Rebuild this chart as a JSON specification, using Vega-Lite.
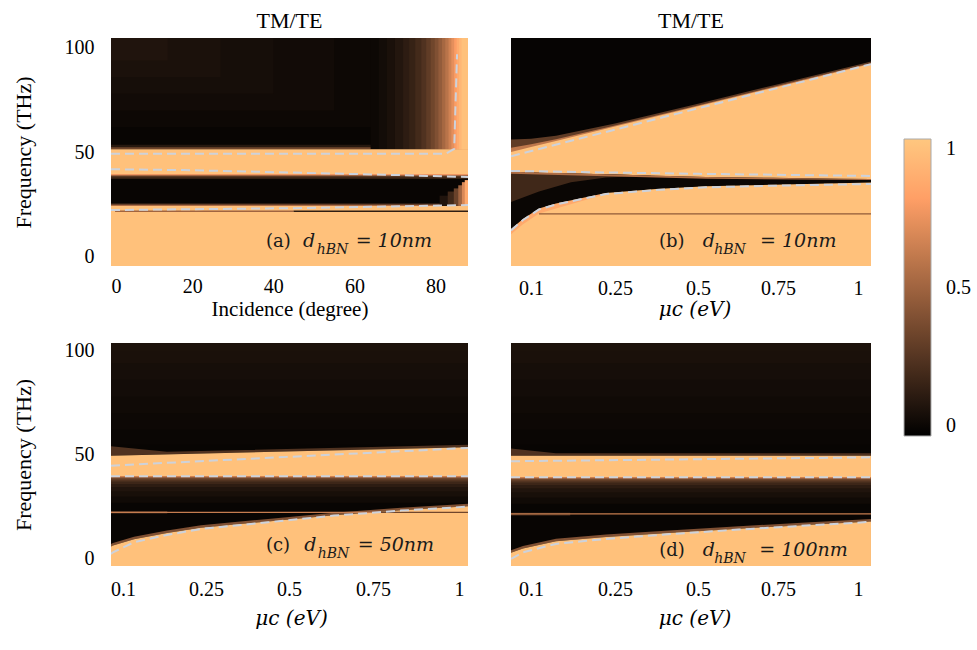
{
"$schema": "https://vega.github.io/schema/vega-lite/v6.json",
"background": "white",
"padding": {"left": 12, "top": 9, "right": 5, "bottom": 5},
"config": {
 "view": {"stroke": null},
 "font": "Liberation Serif",
 "axis": {"domain": false, "ticks": false, "grid": false, "labelFont": "Liberation Serif", "labelFontSize": 20, "labelColor": "#000", "titleFont": "Liberation Serif", "titleFontSize": 22, "titleFontWeight": "normal", "titleColor": "#000"},
 "title": {"font": "Liberation Serif", "fontSize": 22, "fontWeight": "normal", "color": "#000", "baseline": "bottom", "offset": 5},
 "legend": {"orient": "none", "legendX": 793, "legendY": 101, "direction": "vertical", "gradientLength": 297, "gradientThickness": 27, "labelFont": "Liberation Serif", "labelFontSize": 20, "labelColor": "#000", "labelOffset": 15, "gradientStrokeColor": "#aaaaaa", "gradientStrokeWidth": 1}
},
"datasets": {
 "reg": [
  {"p":"a","band":"a01","x":0,"y":-10,"y2":110,"v":0.025},{"p":"a","band":"a01","x":88,"y":-10,"y2":110,"v":0.025},
  {"p":"a","band":"a02","x":0,"y":62,"y2":110,"v":0.04},{"p":"a","band":"a02","x":70,"y":62,"y2":110,"v":0.04},
  {"p":"a","band":"a03","x":0,"y":70,"y2":110,"v":0.055},{"p":"a","band":"a03","x":55,"y":70,"y2":110,"v":0.055},
  {"p":"a","band":"a04","x":0,"y":78,"y2":110,"v":0.07},{"p":"a","band":"a04","x":40,"y":78,"y2":110,"v":0.07},
  {"p":"a","band":"a05","x":0,"y":86,"y2":110,"v":0.085},{"p":"a","band":"a05","x":27,"y":86,"y2":110,"v":0.085},
  {"p":"a","band":"a06","x":0,"y":94,"y2":110,"v":0.1},{"p":"a","band":"a06","x":14,"y":94,"y2":110,"v":0.1},
  {"p":"a","band":"a07","x":0,"y":51.3,"y2":53.5,"v":0.12},{"p":"a","band":"a07","x":84,"y":51.3,"y2":53.5,"v":0.12},
  {"p":"a","band":"a08","x":0,"y":51.3,"y2":52.3,"v":0.35},{"p":"a","band":"a08","x":84,"y":51.3,"y2":52.3,"v":0.35},
  {"p":"a","band":"a09","x":64,"y":51.3,"y2":110,"v":0.04},{"p":"a","band":"a09","x":88,"y":51.3,"y2":110,"v":0.04},
  {"p":"a","band":"a10","x":66,"y":51.3,"y2":110,"v":0.06},{"p":"a","band":"a10","x":88,"y":51.3,"y2":110,"v":0.06},
  {"p":"a","band":"a11","x":68,"y":51.3,"y2":110,"v":0.08},{"p":"a","band":"a11","x":88,"y":51.3,"y2":110,"v":0.08},
  {"p":"a","band":"a12","x":70,"y":51.3,"y2":110,"v":0.11},{"p":"a","band":"a12","x":88,"y":51.3,"y2":110,"v":0.11},
  {"p":"a","band":"a13","x":72,"y":51.3,"y2":110,"v":0.14},{"p":"a","band":"a13","x":88,"y":51.3,"y2":110,"v":0.14},
  {"p":"a","band":"a14","x":73.5,"y":51.3,"y2":110,"v":0.17},{"p":"a","band":"a14","x":88,"y":51.3,"y2":110,"v":0.17},
  {"p":"a","band":"a15","x":75,"y":51.3,"y2":110,"v":0.21},{"p":"a","band":"a15","x":88,"y":51.3,"y2":110,"v":0.21},
  {"p":"a","band":"a16","x":76.5,"y":51.3,"y2":110,"v":0.25},{"p":"a","band":"a16","x":88,"y":51.3,"y2":110,"v":0.25},
  {"p":"a","band":"a17","x":77.7,"y":51.3,"y2":110,"v":0.3},{"p":"a","band":"a17","x":88,"y":51.3,"y2":110,"v":0.3},
  {"p":"a","band":"a18","x":78.8,"y":51.3,"y2":110,"v":0.35},{"p":"a","band":"a18","x":88,"y":51.3,"y2":110,"v":0.35},
  {"p":"a","band":"a19","x":79.8,"y":51.3,"y2":110,"v":0.4},{"p":"a","band":"a19","x":88,"y":51.3,"y2":110,"v":0.4},
  {"p":"a","band":"a20","x":80.7,"y":51.3,"y2":110,"v":0.46},{"p":"a","band":"a20","x":88,"y":51.3,"y2":110,"v":0.46},
  {"p":"a","band":"a21","x":81.6,"y":51.3,"y2":110,"v":0.52},{"p":"a","band":"a21","x":88,"y":51.3,"y2":110,"v":0.52},
  {"p":"a","band":"a22","x":82.4,"y":51.3,"y2":110,"v":0.58},{"p":"a","band":"a22","x":88,"y":51.3,"y2":110,"v":0.58},
  {"p":"a","band":"a23","x":83.2,"y":51.3,"y2":110,"v":0.65},{"p":"a","band":"a23","x":88,"y":51.3,"y2":110,"v":0.65},
  {"p":"a","band":"a24","x":83.9,"y":51.3,"y2":110,"v":0.72},{"p":"a","band":"a24","x":88,"y":51.3,"y2":110,"v":0.72},
  {"p":"a","band":"a25","x":84.6,"y":51.3,"y2":110,"v":0.79},{"p":"a","band":"a25","x":88,"y":51.3,"y2":110,"v":0.79},
  {"p":"a","band":"a26","x":85.2,"y":51.3,"y2":110,"v":0.86},{"p":"a","band":"a26","x":88,"y":51.3,"y2":110,"v":0.86},
  {"p":"a","band":"a27","x":85.8,"y":51.3,"y2":110,"v":0.92},{"p":"a","band":"a27","x":88,"y":51.3,"y2":110,"v":0.92},
  {"p":"a","band":"a28","x":86.4,"y":51.3,"y2":110,"v":0.97},{"p":"a","band":"a28","x":88,"y":51.3,"y2":110,"v":0.97},
  {"p":"a","band":"a29","x":0,"y":39.4,"y2":51.3,"v":0.97},{"p":"a","band":"a29","x":88,"y":39.4,"y2":51.3,"v":0.97},
  {"p":"a","band":"a30","x":0,"y":37.2,"y2":39.4,"v":0.2},{"p":"a","band":"a30","x":88,"y":37.2,"y2":39.4,"v":0.2},
  {"p":"a","band":"a31","x":0,"y":38.3,"y2":39.4,"v":0.5},{"p":"a","band":"a31","x":88,"y":38.3,"y2":39.4,"v":0.5},
  {"p":"a","band":"a32","x":0,"y":38.9,"y2":39.4,"v":0.75},{"p":"a","band":"a32","x":88,"y":38.9,"y2":39.4,"v":0.75},
  {"p":"a","band":"a33","x":0,"y":24,"y2":25.2,"v":0.25},{"p":"a","band":"a33","x":88,"y":24,"y2":25.2,"v":0.25},
  {"p":"a","band":"a34","x":0,"y":24,"y2":24.6,"v":0.55},{"p":"a","band":"a34","x":88,"y":24,"y2":24.6,"v":0.55},
  {"p":"a","band":"a35","x":81,"y":24,"y2":29,"v":0.1},{"p":"a","band":"a35","x":88,"y":24,"y2":29,"v":0.1},
  {"p":"a","band":"a36","x":83,"y":24,"y2":31,"v":0.2},{"p":"a","band":"a36","x":88,"y":24,"y2":31,"v":0.2},
  {"p":"a","band":"a37","x":84.5,"y":24,"y2":32.5,"v":0.33},{"p":"a","band":"a37","x":88,"y":24,"y2":32.5,"v":0.33},
  {"p":"a","band":"a38","x":85.6,"y":24,"y2":34,"v":0.5},{"p":"a","band":"a38","x":88,"y":24,"y2":34,"v":0.5},
  {"p":"a","band":"a39","x":86.5,"y":24,"y2":35.5,"v":0.68},{"p":"a","band":"a39","x":88,"y":24,"y2":35.5,"v":0.68},
  {"p":"a","band":"a40","x":87.2,"y":24,"y2":36.5,"v":0.85},{"p":"a","band":"a40","x":88,"y":24,"y2":36.5,"v":0.85},
  {"p":"a","band":"a41","x":0,"y":-10,"y2":24,"v":0.97},{"p":"a","band":"a41","x":88,"y":-10,"y2":24,"v":0.97},
  {"p":"a","band":"a42","x":1,"y":21.2,"y2":21.9,"v":0.5},{"p":"a","band":"a42","x":45,"y":21.2,"y2":21.9,"v":0.5},
  {"p":"a","band":"a43","x":45,"y":21.2,"y2":21.9,"v":0.15},{"p":"a","band":"a43","x":88,"y":21.2,"y2":21.9,"v":0.15},

  {"p":"b","band":"b01","x":0.0643,"y":-10,"y2":110,"v":0.97},{"p":"b","band":"b01","x":1.0406,"y":-10,"y2":110,"v":0.97},
  {"p":"b","band":"b02","x":0.0643,"y":50,"y2":110,"v":0.6},{"p":"b","band":"b02","x":0.1,"y":52.35,"y2":110,"v":0.6},{"p":"b","band":"b02","x":0.1446,"y":55.3,"y2":110,"v":0.6},{"p":"b","band":"b02","x":0.25,"y":62.2,"y2":110,"v":0.6},{"p":"b","band":"b02","x":0.5,"y":72,"y2":110,"v":0.6},{"p":"b","band":"b02","x":0.75,"y":81.4,"y2":110,"v":0.6},{"p":"b","band":"b02","x":1,"y":90.8,"y2":110,"v":0.6},{"p":"b","band":"b02","x":1.0406,"y":92.3,"y2":110,"v":0.6},
  {"p":"b","band":"b03","x":0.0643,"y":52,"y2":110,"v":0.3},{"p":"b","band":"b03","x":0.1,"y":53.68,"y2":110,"v":0.3},{"p":"b","band":"b03","x":0.1446,"y":56.13,"y2":110,"v":0.3},{"p":"b","band":"b03","x":0.25,"y":62.7,"y2":110,"v":0.3},{"p":"b","band":"b03","x":0.5,"y":72.4,"y2":110,"v":0.3},{"p":"b","band":"b03","x":0.75,"y":81.8,"y2":110,"v":0.3},{"p":"b","band":"b03","x":1,"y":91.2,"y2":110,"v":0.3},{"p":"b","band":"b03","x":1.0406,"y":92.7,"y2":110,"v":0.3},
  {"p":"b","band":"b04","x":0.0643,"y":56,"y2":110,"v":0.02},{"p":"b","band":"b04","x":0.1,"y":56.35,"y2":110,"v":0.02},{"p":"b","band":"b04","x":0.1446,"y":57.8,"y2":110,"v":0.02},{"p":"b","band":"b04","x":0.25,"y":63.7,"y2":110,"v":0.02},{"p":"b","band":"b04","x":0.5,"y":73.2,"y2":110,"v":0.02},{"p":"b","band":"b04","x":0.75,"y":82.6,"y2":110,"v":0.02},{"p":"b","band":"b04","x":1,"y":92,"y2":110,"v":0.02},{"p":"b","band":"b04","x":1.0406,"y":93.5,"y2":110,"v":0.02},
  {"p":"b","band":"b05","x":0.0643,"y":10.5,"y2":13,"v":0.85},{"p":"b","band":"b05","x":0.0857,"y":15.3,"y2":17.8,"v":0.85},{"p":"b","band":"b05","x":0.1143,"y":20.4,"y2":22.9,"v":0.85},{"p":"b","band":"b05","x":0.1446,"y":22.8,"y2":25.3,"v":0.85},{"p":"b","band":"b05","x":0.2339,"y":29.8,"y2":30.3,"v":0.85},
  {"p":"b","band":"b06","x":0.0643,"y":13,"y2":40.5,"v":0.03},{"p":"b","band":"b06","x":0.0857,"y":17.8,"y2":40.3,"v":0.03},{"p":"b","band":"b06","x":0.1143,"y":22.9,"y2":40,"v":0.03},{"p":"b","band":"b06","x":0.1446,"y":25.3,"y2":39.8,"v":0.03},{"p":"b","band":"b06","x":0.2339,"y":30.3,"y2":39.3,"v":0.03},{"p":"b","band":"b06","x":0.3735,"y":32.2,"y2":38.6,"v":0.03},{"p":"b","band":"b06","x":0.525,"y":33.5,"y2":38,"v":0.03},{"p":"b","band":"b06","x":0.7344,"y":34.3,"y2":37.6,"v":0.03},{"p":"b","band":"b06","x":0.9406,"y":35,"y2":37.2,"v":0.03},{"p":"b","band":"b06","x":1.0406,"y":35.3,"y2":37,"v":0.03},
  {"p":"b","band":"b07","x":0.0643,"y":26,"y2":40.5,"v":0.2},{"p":"b","band":"b07","x":0.1143,"y":31,"y2":40,"v":0.2},{"p":"b","band":"b07","x":0.1714,"y":35.5,"y2":39.7,"v":0.2},{"p":"b","band":"b07","x":0.2339,"y":37.8,"y2":39.3,"v":0.2},{"p":"b","band":"b07","x":0.3584,"y":38.6,"y2":38.7,"v":0.2},
  {"p":"b","band":"b08","x":0.0643,"y":39.6,"y2":40.5,"v":0.55},{"p":"b","band":"b08","x":0.2339,"y":38.4,"y2":39.3,"v":0.55},{"p":"b","band":"b08","x":0.525,"y":37.1,"y2":38,"v":0.55},{"p":"b","band":"b08","x":0.9406,"y":36.7,"y2":37.2,"v":0.55},{"p":"b","band":"b08","x":1.0406,"y":36.5,"y2":37,"v":0.55},
  {"p":"b","band":"b09","x":0.1143,"y":19.9,"y2":20.5,"v":0.45},{"p":"b","band":"b09","x":1.0406,"y":19.9,"y2":20.5,"v":0.45},

  {"p":"c","band":"c01","x":0.0783,"y":-10,"y2":110,"v":0.025},{"p":"c","band":"c01","x":1.0262,"y":-10,"y2":110,"v":0.025},
  {"p":"c","band":"c02","x":0.0783,"y":55,"y2":110,"v":0.032},{"p":"c","band":"c02","x":1.0262,"y":55,"y2":110,"v":0.032},
  {"p":"c","band":"c03","x":0.0783,"y":62,"y2":110,"v":0.04},{"p":"c","band":"c03","x":1.0262,"y":62,"y2":110,"v":0.04},
  {"p":"c","band":"c04","x":0.0783,"y":70,"y2":110,"v":0.05},{"p":"c","band":"c04","x":1.0262,"y":70,"y2":110,"v":0.05},
  {"p":"c","band":"c05","x":0.0783,"y":78,"y2":110,"v":0.06},{"p":"c","band":"c05","x":1.0262,"y":78,"y2":110,"v":0.06},
  {"p":"c","band":"c06","x":0.0783,"y":86,"y2":110,"v":0.07},{"p":"c","band":"c06","x":1.0262,"y":86,"y2":110,"v":0.07},
  {"p":"c","band":"c07","x":0.0783,"y":94,"y2":110,"v":0.08},{"p":"c","band":"c07","x":1.0262,"y":94,"y2":110,"v":0.08},
  {"p":"c","band":"c08","x":0.0783,"y":100,"y2":110,"v":0.09},{"p":"c","band":"c08","x":1.0262,"y":100,"y2":110,"v":0.09},
  {"p":"c","band":"c09","x":0.0783,"y":49.6,"y2":54.1,"v":0.25},{"p":"c","band":"c09","x":0.1795,"y":50.23,"y2":51.5,"v":0.25},{"p":"c","band":"c09","x":1.0262,"y":53.6,"y2":54.8,"v":0.25},
  {"p":"c","band":"c10","x":0.0783,"y":39.7,"y2":49.6,"v":0.97},{"p":"c","band":"c10","x":1.0262,"y":39.7,"y2":53.6,"v":0.97},
  {"p":"c","band":"c11","x":0.0783,"y":27,"y2":39.7,"v":0.05},{"p":"c","band":"c11","x":1.0262,"y":27,"y2":39.7,"v":0.05},
  {"p":"c","band":"c12","x":0.0783,"y":30,"y2":39.7,"v":0.075},{"p":"c","band":"c12","x":1.0262,"y":30,"y2":39.7,"v":0.075},
  {"p":"c","band":"c13","x":0.0783,"y":32.5,"y2":39.7,"v":0.1},{"p":"c","band":"c13","x":1.0262,"y":32.5,"y2":39.7,"v":0.1},
  {"p":"c","band":"c14","x":0.0783,"y":34.5,"y2":39.7,"v":0.14},{"p":"c","band":"c14","x":1.0262,"y":34.5,"y2":39.7,"v":0.14},
  {"p":"c","band":"c15","x":0.0783,"y":36,"y2":39.7,"v":0.19},{"p":"c","band":"c15","x":1.0262,"y":36,"y2":39.7,"v":0.19},
  {"p":"c","band":"c16","x":0.0783,"y":37.2,"y2":39.7,"v":0.26},{"p":"c","band":"c16","x":1.0262,"y":37.2,"y2":39.7,"v":0.26},
  {"p":"c","band":"c17","x":0.0783,"y":38.2,"y2":39.7,"v":0.35},{"p":"c","band":"c17","x":1.0262,"y":38.2,"y2":39.7,"v":0.35},
  {"p":"c","band":"c18","x":0.0783,"y":39,"y2":39.7,"v":0.5},{"p":"c","band":"c18","x":1.0262,"y":39,"y2":39.7,"v":0.5},
  {"p":"c","band":"c19","x":0.0783,"y":39.4,"y2":39.7,"v":0.7},{"p":"c","band":"c19","x":1.0262,"y":39.4,"y2":39.7,"v":0.7},
  {"p":"c","band":"c20","x":0.0783,"y":6,"y2":7.2,"v":0.4},{"p":"c","band":"c20","x":0.0819,"y":6.4,"y2":7.6,"v":0.4},{"p":"c","band":"c20","x":0.1199,"y":9.5,"y2":10.7,"v":0.4},{"p":"c","band":"c20","x":0.1795,"y":12.5,"y2":13.7,"v":0.4},{"p":"c","band":"c20","x":0.241,"y":15,"y2":16.2,"v":0.4},{"p":"c","band":"c20","x":0.4367,"y":18,"y2":19.2,"v":0.4},{"p":"c","band":"c20","x":0.6339,"y":21,"y2":22.2,"v":0.4},{"p":"c","band":"c20","x":0.8314,"y":23.4,"y2":24.6,"v":0.4},{"p":"c","band":"c20","x":1.0262,"y":25.3,"y2":26.5,"v":0.4},
  {"p":"c","band":"c21","x":0.0783,"y":-10,"y2":6,"v":0.97},{"p":"c","band":"c21","x":0.0819,"y":-10,"y2":6.4,"v":0.97},{"p":"c","band":"c21","x":0.1199,"y":-10,"y2":9.5,"v":0.97},{"p":"c","band":"c21","x":0.1795,"y":-10,"y2":12.5,"v":0.97},{"p":"c","band":"c21","x":0.241,"y":-10,"y2":15,"v":0.97},{"p":"c","band":"c21","x":0.4367,"y":-10,"y2":18,"v":0.97},{"p":"c","band":"c21","x":0.6339,"y":-10,"y2":21,"v":0.97},{"p":"c","band":"c21","x":0.8314,"y":-10,"y2":23.4,"v":0.97},{"p":"c","band":"c21","x":1.0262,"y":-10,"y2":25.3,"v":0.97},
  {"p":"c","band":"c22","x":0.0783,"y":21.8,"y2":23,"v":0.22},{"p":"c","band":"c22","x":0.18,"y":21.8,"y2":23,"v":0.22},
  {"p":"c","band":"c23","x":0.0783,"y":22.1,"y2":22.7,"v":0.62},{"p":"c","band":"c23","x":0.7674,"y":22.1,"y2":22.7,"v":0.62},
  {"p":"c","band":"c24","x":0.7674,"y":22.1,"y2":22.6,"v":0.35},{"p":"c","band":"c24","x":1.0262,"y":22.1,"y2":22.6,"v":0.35},

  {"p":"d","band":"d01","x":0.0643,"y":-10,"y2":110,"v":0.025},{"p":"d","band":"d01","x":1.0406,"y":-10,"y2":110,"v":0.025},
  {"p":"d","band":"d02","x":0.0643,"y":55,"y2":110,"v":0.032},{"p":"d","band":"d02","x":1.0406,"y":55,"y2":110,"v":0.032},
  {"p":"d","band":"d03","x":0.0643,"y":62,"y2":110,"v":0.04},{"p":"d","band":"d03","x":1.0406,"y":62,"y2":110,"v":0.04},
  {"p":"d","band":"d04","x":0.0643,"y":70,"y2":110,"v":0.05},{"p":"d","band":"d04","x":1.0406,"y":70,"y2":110,"v":0.05},
  {"p":"d","band":"d05","x":0.0643,"y":78,"y2":110,"v":0.06},{"p":"d","band":"d05","x":1.0406,"y":78,"y2":110,"v":0.06},
  {"p":"d","band":"d06","x":0.0643,"y":86,"y2":110,"v":0.07},{"p":"d","band":"d06","x":1.0406,"y":86,"y2":110,"v":0.07},
  {"p":"d","band":"d07","x":0.0643,"y":94,"y2":110,"v":0.08},{"p":"d","band":"d07","x":1.0406,"y":94,"y2":110,"v":0.08},
  {"p":"d","band":"d08","x":0.0643,"y":100,"y2":110,"v":0.09},{"p":"d","band":"d08","x":1.0406,"y":100,"y2":110,"v":0.09},
  {"p":"d","band":"d09","x":0.0643,"y":49.6,"y2":53,"v":0.25},{"p":"d","band":"d09","x":0.1446,"y":49.6,"y2":50.8,"v":0.25},{"p":"d","band":"d09","x":1.0406,"y":49.6,"y2":50.8,"v":0.25},
  {"p":"d","band":"d10","x":0.0643,"y":39.2,"y2":49.6,"v":0.97},{"p":"d","band":"d10","x":1.0406,"y":39.2,"y2":49.6,"v":0.97},
  {"p":"d","band":"d11","x":0.0643,"y":26.5,"y2":39.2,"v":0.05},{"p":"d","band":"d11","x":1.0406,"y":26.5,"y2":39.2,"v":0.05},
  {"p":"d","band":"d12","x":0.0643,"y":29.5,"y2":39.2,"v":0.075},{"p":"d","band":"d12","x":1.0406,"y":29.5,"y2":39.2,"v":0.075},
  {"p":"d","band":"d13","x":0.0643,"y":32,"y2":39.2,"v":0.1},{"p":"d","band":"d13","x":1.0406,"y":32,"y2":39.2,"v":0.1},
  {"p":"d","band":"d14","x":0.0643,"y":34,"y2":39.2,"v":0.14},{"p":"d","band":"d14","x":1.0406,"y":34,"y2":39.2,"v":0.14},
  {"p":"d","band":"d15","x":0.0643,"y":35.5,"y2":39.2,"v":0.19},{"p":"d","band":"d15","x":1.0406,"y":35.5,"y2":39.2,"v":0.19},
  {"p":"d","band":"d16","x":0.0643,"y":36.7,"y2":39.2,"v":0.26},{"p":"d","band":"d16","x":1.0406,"y":36.7,"y2":39.2,"v":0.26},
  {"p":"d","band":"d17","x":0.0643,"y":37.7,"y2":39.2,"v":0.35},{"p":"d","band":"d17","x":1.0406,"y":37.7,"y2":39.2,"v":0.35},
  {"p":"d","band":"d18","x":0.0643,"y":38.5,"y2":39.2,"v":0.5},{"p":"d","band":"d18","x":1.0406,"y":38.5,"y2":39.2,"v":0.5},
  {"p":"d","band":"d19","x":0.0643,"y":38.9,"y2":39.2,"v":0.7},{"p":"d","band":"d19","x":1.0406,"y":38.9,"y2":39.2,"v":0.7},
  {"p":"d","band":"d20","x":0.0643,"y":3,"y2":4.2,"v":0.4},{"p":"d","band":"d20","x":0.0857,"y":5,"y2":6.2,"v":0.4},{"p":"d","band":"d20","x":0.1446,"y":8.5,"y2":9.7,"v":0.4},{"p":"d","band":"d20","x":0.2339,"y":10.5,"y2":11.7,"v":0.4},{"p":"d","band":"d20","x":0.4247,"y":12.6,"y2":13.8,"v":0.4},{"p":"d","band":"d20","x":0.6281,"y":14.5,"y2":15.7,"v":0.4},{"p":"d","band":"d20","x":0.8375,"y":16.3,"y2":17.5,"v":0.4},{"p":"d","band":"d20","x":1.0406,"y":18,"y2":19.2,"v":0.4},
  {"p":"d","band":"d21","x":0.0643,"y":-10,"y2":3,"v":0.97},{"p":"d","band":"d21","x":0.0857,"y":-10,"y2":5,"v":0.97},{"p":"d","band":"d21","x":0.1446,"y":-10,"y2":8.5,"v":0.97},{"p":"d","band":"d21","x":0.2339,"y":-10,"y2":10.5,"v":0.97},{"p":"d","band":"d21","x":0.4247,"y":-10,"y2":12.6,"v":0.97},{"p":"d","band":"d21","x":0.6281,"y":-10,"y2":14.5,"v":0.97},{"p":"d","band":"d21","x":0.8375,"y":-10,"y2":16.3,"v":0.97},{"p":"d","band":"d21","x":1.0406,"y":-10,"y2":18,"v":0.97},
  {"p":"d","band":"d22","x":0.0643,"y":20.9,"y2":22.2,"v":0.22},{"p":"d","band":"d22","x":0.17,"y":20.9,"y2":22.2,"v":0.22},
  {"p":"d","band":"d23","x":0.0643,"y":21.3,"y2":21.9,"v":0.62},{"p":"d","band":"d23","x":1.0406,"y":21.3,"y2":21.9,"v":0.62}
 ],
 "ln": [
  {"p":"a","id":"a1","x":0,"y":49.2},{"p":"a","id":"a1","x":82.5,"y":49.2},{"p":"a","id":"a1","x":84.6,"y":51.5},{"p":"a","id":"a1","x":85.3,"y":97},
  {"p":"a","id":"a2","x":0,"y":41.7},{"p":"a","id":"a2","x":18,"y":41.3},{"p":"a","id":"a2","x":45,"y":40.1},{"p":"a","id":"a2","x":71,"y":38.9},{"p":"a","id":"a2","x":88,"y":38},
  {"p":"a","id":"a3","x":0,"y":22.1},{"p":"a","id":"a3","x":45,"y":23},{"p":"a","id":"a3","x":88,"y":24.5},
  {"p":"b","id":"b1","x":0.0643,"y":48},{"p":"b","id":"b1","x":1.0406,"y":92.2},
  {"p":"b","id":"b2","x":0.0643,"y":40.9},{"p":"b","id":"b2","x":0.5,"y":39.5},{"p":"b","id":"b2","x":1.0406,"y":38.5},
  {"p":"b","id":"b3","x":0.0643,"y":12.3},{"p":"b","id":"b3","x":0.0857,"y":17.3},{"p":"b","id":"b3","x":0.1143,"y":22.4},{"p":"b","id":"b3","x":0.1446,"y":24.8},{"p":"b","id":"b3","x":0.2339,"y":29.8},{"p":"b","id":"b3","x":0.3735,"y":31.7},{"p":"b","id":"b3","x":0.525,"y":33},{"p":"b","id":"b3","x":0.7344,"y":33.8},{"p":"b","id":"b3","x":1.0406,"y":34.6},
  {"p":"c","id":"c1","x":0.0783,"y":44.8},{"p":"c","id":"c1","x":1.0262,"y":53.3},
  {"p":"c","id":"c2","x":0.0783,"y":39.7},{"p":"c","id":"c2","x":1.0262,"y":39.7},
  {"p":"c","id":"c3","x":0.0783,"y":2.4},{"p":"c","id":"c3","x":0.0819,"y":3.2},{"p":"c","id":"c3","x":0.1199,"y":8},{"p":"c","id":"c3","x":0.1795,"y":11.5},{"p":"c","id":"c3","x":0.241,"y":14.4},{"p":"c","id":"c3","x":0.4367,"y":17.6},{"p":"c","id":"c3","x":0.6339,"y":20.8},{"p":"c","id":"c3","x":0.8314,"y":23.2},{"p":"c","id":"c3","x":1.0262,"y":25.1},
  {"p":"d","id":"d1","x":0.0643,"y":46.9},{"p":"d","id":"d1","x":1.0406,"y":48.8},
  {"p":"d","id":"d2","x":0.0643,"y":39.2},{"p":"d","id":"d2","x":1.0406,"y":39.2},
  {"p":"d","id":"d3","x":0.0643,"y":0},{"p":"d","id":"d3","x":0.0857,"y":3.2},{"p":"d","id":"d3","x":0.1446,"y":7.2},{"p":"d","id":"d3","x":0.2339,"y":9.6},{"p":"d","id":"d3","x":0.4247,"y":12},{"p":"d","id":"d3","x":0.6281,"y":14.1},{"p":"d","id":"d3","x":0.8375,"y":16},{"p":"d","id":"d3","x":1.0406,"y":17.8}
 ],
 "lab": [
  {"p":"a","k":"n","x":38.2,"y":4.3,"t":"(a)"},{"p":"a","k":"i","x":47.3,"y":4.3,"t":"d"},{"p":"a","k":"s","x":50.7,"y":0.8,"t":"hBN"},{"p":"a","k":"i","x":60.3,"y":4.3,"t":"= 10nm"},
  {"p":"b","k":"n","x":0.3825,"y":4.3,"t":"(b)"},{"p":"b","k":"i","x":0.5146,"y":4.3,"t":"d"},{"p":"b","k":"s","x":0.5509,"y":0.8,"t":"hBN"},{"p":"b","k":"i","x":0.6938,"y":4.3,"t":"= 10nm"},
  {"p":"c","k":"n","x":0.4307,"y":4.0,"t":"(c)"},{"p":"c","k":"i","x":0.5455,"y":4.0,"t":"d"},{"p":"c","k":"s","x":0.5854,"y":0.6,"t":"hBN"},{"p":"c","k":"i","x":0.7045,"y":4.0,"t":"= 50nm"},
  {"p":"d","k":"n","x":0.3834,"y":1.6,"t":"(d)"},{"p":"d","k":"i","x":0.5146,"y":1.6,"t":"d"},{"p":"d","k":"s","x":0.5509,"y":-1.8,"t":"hBN"},{"p":"d","k":"i","x":0.6916,"y":1.6,"t":"= 100nm"}
 ]
},
"columns": 2,
"spacing": {"row": 21, "column": 43},
"concat": [
 {
  "width": 357, "height": 228,
  "title": {"text": "TM/TE"},
  "encoding": {
   "x": {"field": "x", "type": "quantitative", "scale": {"domain": [0, 88], "nice": false, "zero": false}, "axis": {"values": [0, 20, 40, 60, 80], "title": "Incidence (degree)", "titleFontSize": 21, "labelPadding": 10, "titlePadding": 2}},
   "y": {"field": "y", "type": "quantitative", "stack": null, "scale": {"domain": [-4.8, 104.8], "nice": false, "zero": false}, "axis": {"values": [0, 50, 100], "title": "Frequency (THz)", "labelPadding": 17, "titlePadding": 29}}
  },
  "layer": [
   {"data": {"name": "reg"}, "transform": [{"filter": "datum.p == 'a'"}], "mark": {"type": "area", "clip": true},
    "encoding": {"y2": {"field": "y2"}, "detail": {"field": "band", "type": "nominal"},
     "color": {"field": "v", "type": "quantitative", "scale": {"type": "linear", "domain": [0, 0.2, 0.4, 0.6, 0.8, 1], "range": ["#000000", "#402819", "#805033", "#bf784c", "#ff9f66", "#ffc77f"], "interpolate": "rgb"}, "legend": {"title": null, "values": [0, 0.5, 1], "format": "~g", "direction": "vertical", "labelOffset": 15}}}},
   {"data": {"name": "ln"}, "transform": [{"filter": "datum.p == 'a'"}], "mark": {"type": "line", "clip": true, "stroke": "#cdd2db", "strokeWidth": 2, "strokeDash": [9, 5]},
    "encoding": {"detail": {"field": "id", "type": "nominal"}}},
   {"data": {"name": "lab"}, "transform": [{"filter": "datum.p == 'a' && datum.k == 'n'"}], "mark": {"type": "text", "align": "left", "baseline": "alphabetic", "font": "DejaVu Serif", "fontSize": 18, "color": "#1a1a1a"},
    "encoding": {"text": {"field": "t"}}},
   {"data": {"name": "lab"}, "transform": [{"filter": "datum.p == 'a' && datum.k == 'i'"}], "mark": {"type": "text", "align": "left", "baseline": "alphabetic", "font": "DejaVu Serif", "fontStyle": "italic", "fontSize": 19, "color": "#1a1a1a"},
    "encoding": {"text": {"field": "t"}}},
   {"data": {"name": "lab"}, "transform": [{"filter": "datum.p == 'a' && datum.k == 's'"}], "mark": {"type": "text", "align": "left", "baseline": "alphabetic", "font": "DejaVu Serif", "fontStyle": "italic", "fontSize": 14, "color": "#1a1a1a"},
    "encoding": {"text": {"field": "t"}}}
  ]
 },
 {
  "width": 360, "height": 228,
  "title": {"text": "TM/TE"},
  "encoding": {
   "x": {"field": "x", "type": "quantitative", "scale": {"domain": [0.1, 0.25, 0.5, 0.75, 1], "range": [20, 104, 187, 267, 347], "nice": false, "zero": false}, "axis": {"values": [0.1, 0.25, 0.5, 0.75, 1], "labelExpr": "'' + datum.value", "labelFlush": false, "title": "μc (eV)", "titleFont": "DejaVu Serif", "titleFontStyle": "italic", "titleFontSize": 20, "labelPadding": 12, "titlePadding": 1}},
   "y": {"field": "y", "type": "quantitative", "stack": null, "scale": {"domain": [-4.8, 104.8], "nice": false, "zero": false}, "axis": null}
  },
  "layer": [
   {"data": {"name": "reg"}, "transform": [{"filter": "datum.p == 'b'"}], "mark": {"type": "area", "clip": true},
    "encoding": {"y2": {"field": "y2"}, "detail": {"field": "band", "type": "nominal"},
     "color": {"field": "v", "type": "quantitative", "scale": {"type": "linear", "domain": [0, 0.2, 0.4, 0.6, 0.8, 1], "range": ["#000000", "#402819", "#805033", "#bf784c", "#ff9f66", "#ffc77f"], "interpolate": "rgb"}, "legend": {"title": null, "values": [0, 0.5, 1], "format": "~g", "direction": "vertical", "labelOffset": 15}}}},
   {"data": {"name": "ln"}, "transform": [{"filter": "datum.p == 'b'"}], "mark": {"type": "line", "clip": true, "stroke": "#cdd2db", "strokeWidth": 2, "strokeDash": [9, 5]},
    "encoding": {"detail": {"field": "id", "type": "nominal"}}},
   {"data": {"name": "lab"}, "transform": [{"filter": "datum.p == 'b' && datum.k == 'n'"}], "mark": {"type": "text", "align": "left", "baseline": "alphabetic", "font": "DejaVu Serif", "fontSize": 18, "color": "#1a1a1a"},
    "encoding": {"text": {"field": "t"}}},
   {"data": {"name": "lab"}, "transform": [{"filter": "datum.p == 'b' && datum.k == 'i'"}], "mark": {"type": "text", "align": "left", "baseline": "alphabetic", "font": "DejaVu Serif", "fontStyle": "italic", "fontSize": 19, "color": "#1a1a1a"},
    "encoding": {"text": {"field": "t"}}},
   {"data": {"name": "lab"}, "transform": [{"filter": "datum.p == 'b' && datum.k == 's'"}], "mark": {"type": "text", "align": "left", "baseline": "alphabetic", "font": "DejaVu Serif", "fontStyle": "italic", "fontSize": 14, "color": "#1a1a1a"},
    "encoding": {"text": {"field": "t"}}}
  ]
 },
 {
  "width": 357, "height": 223,
  "encoding": {
   "x": {"field": "x", "type": "quantitative", "scale": {"domain": [0.1, 0.25, 0.5, 0.75, 1], "range": [12, 95, 178, 262, 348], "nice": false, "zero": false}, "axis": {"values": [0.1, 0.25, 0.5, 0.75, 1], "labelExpr": "'' + datum.value", "labelFlush": false, "title": "μc (eV)", "titleFont": "DejaVu Serif", "titleFontStyle": "italic", "titleFontSize": 20, "labelPadding": 13, "titlePadding": 9}},
   "y": {"field": "y", "type": "quantitative", "stack": null, "scale": {"domain": [-3.4, 103.7], "nice": false, "zero": false}, "axis": {"values": [0, 50, 100], "title": "Frequency (THz)", "labelPadding": 17, "titlePadding": 29}}
  },
  "layer": [
   {"data": {"name": "reg"}, "transform": [{"filter": "datum.p == 'c'"}], "mark": {"type": "area", "clip": true},
    "encoding": {"y2": {"field": "y2"}, "detail": {"field": "band", "type": "nominal"},
     "color": {"field": "v", "type": "quantitative", "scale": {"type": "linear", "domain": [0, 0.2, 0.4, 0.6, 0.8, 1], "range": ["#000000", "#402819", "#805033", "#bf784c", "#ff9f66", "#ffc77f"], "interpolate": "rgb"}, "legend": {"title": null, "values": [0, 0.5, 1], "format": "~g", "direction": "vertical", "labelOffset": 15}}}},
   {"data": {"name": "ln"}, "transform": [{"filter": "datum.p == 'c'"}], "mark": {"type": "line", "clip": true, "stroke": "#cdd2db", "strokeWidth": 2, "strokeDash": [9, 5]},
    "encoding": {"detail": {"field": "id", "type": "nominal"}}},
   {"data": {"name": "lab"}, "transform": [{"filter": "datum.p == 'c' && datum.k == 'n'"}], "mark": {"type": "text", "align": "left", "baseline": "alphabetic", "font": "DejaVu Serif", "fontSize": 18, "color": "#1a1a1a"},
    "encoding": {"text": {"field": "t"}}},
   {"data": {"name": "lab"}, "transform": [{"filter": "datum.p == 'c' && datum.k == 'i'"}], "mark": {"type": "text", "align": "left", "baseline": "alphabetic", "font": "DejaVu Serif", "fontStyle": "italic", "fontSize": 19, "color": "#1a1a1a"},
    "encoding": {"text": {"field": "t"}}},
   {"data": {"name": "lab"}, "transform": [{"filter": "datum.p == 'c' && datum.k == 's'"}], "mark": {"type": "text", "align": "left", "baseline": "alphabetic", "font": "DejaVu Serif", "fontStyle": "italic", "fontSize": 14, "color": "#1a1a1a"},
    "encoding": {"text": {"field": "t"}}}
  ]
 },
 {
  "width": 360, "height": 223,
  "encoding": {
   "x": {"field": "x", "type": "quantitative", "scale": {"domain": [0.1, 0.25, 0.5, 0.75, 1], "range": [20, 104, 187, 267, 347], "nice": false, "zero": false}, "axis": {"values": [0.1, 0.25, 0.5, 0.75, 1], "labelExpr": "'' + datum.value", "labelFlush": false, "title": "μc (eV)", "titleFont": "DejaVu Serif", "titleFontStyle": "italic", "titleFontSize": 20, "labelPadding": 13, "titlePadding": 9}},
   "y": {"field": "y", "type": "quantitative", "stack": null, "scale": {"domain": [-3.4, 103.7], "nice": false, "zero": false}, "axis": null}
  },
  "layer": [
   {"data": {"name": "reg"}, "transform": [{"filter": "datum.p == 'd'"}], "mark": {"type": "area", "clip": true},
    "encoding": {"y2": {"field": "y2"}, "detail": {"field": "band", "type": "nominal"},
     "color": {"field": "v", "type": "quantitative", "scale": {"type": "linear", "domain": [0, 0.2, 0.4, 0.6, 0.8, 1], "range": ["#000000", "#402819", "#805033", "#bf784c", "#ff9f66", "#ffc77f"], "interpolate": "rgb"}, "legend": {"title": null, "values": [0, 0.5, 1], "format": "~g", "direction": "vertical", "labelOffset": 15}}}},
   {"data": {"name": "ln"}, "transform": [{"filter": "datum.p == 'd'"}], "mark": {"type": "line", "clip": true, "stroke": "#cdd2db", "strokeWidth": 2, "strokeDash": [9, 5]},
    "encoding": {"detail": {"field": "id", "type": "nominal"}}},
   {"data": {"name": "lab"}, "transform": [{"filter": "datum.p == 'd' && datum.k == 'n'"}], "mark": {"type": "text", "align": "left", "baseline": "alphabetic", "font": "DejaVu Serif", "fontSize": 18, "color": "#1a1a1a"},
    "encoding": {"text": {"field": "t"}}},
   {"data": {"name": "lab"}, "transform": [{"filter": "datum.p == 'd' && datum.k == 'i'"}], "mark": {"type": "text", "align": "left", "baseline": "alphabetic", "font": "DejaVu Serif", "fontStyle": "italic", "fontSize": 19, "color": "#1a1a1a"},
    "encoding": {"text": {"field": "t"}}},
   {"data": {"name": "lab"}, "transform": [{"filter": "datum.p == 'd' && datum.k == 's'"}], "mark": {"type": "text", "align": "left", "baseline": "alphabetic", "font": "DejaVu Serif", "fontStyle": "italic", "fontSize": 14, "color": "#1a1a1a"},
    "encoding": {"text": {"field": "t"}}}
  ]
 }
]
}
